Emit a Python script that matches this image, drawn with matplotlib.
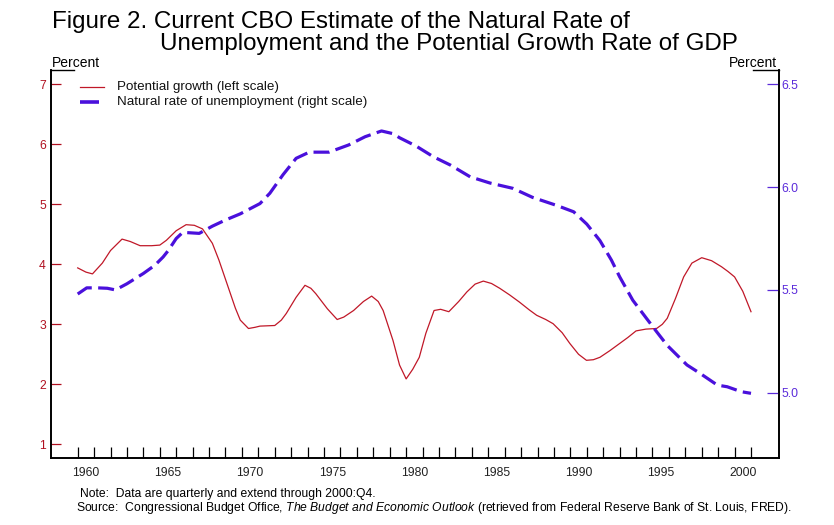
import matplotlib
matplotlib.use("Agg")
import matplotlib.pyplot as plt
from matplotlib.lines import Line2D
from matplotlib.ticker import FixedLocator, NullFormatter, FixedFormatter

plt.rcParams['font.family'] = ['Liberation Sans', 'DejaVu Sans']
plt.rcParams['mathtext.fontset'] = 'custom'
plt.rcParams['mathtext.rm'] = 'Liberation Sans'
plt.rcParams['mathtext.it'] = 'Liberation Sans:italic'

# ---------------- data ----------------
growth_years = [1960.0, 1960.5, 1960.9, 1961.5, 1962.0, 1962.7, 1963.2, 1963.8, 1964.5, 1965.0,
                1965.4, 1966.0, 1966.6, 1967.1, 1967.6, 1968.2, 1968.6, 1969.0, 1969.3, 1969.6,
                1969.9, 1970.4, 1970.8, 1971.1, 1972.0, 1972.4, 1972.7, 1973.3, 1973.84, 1974.2,
                1974.5, 1975.2, 1975.8, 1976.2, 1976.8, 1977.4, 1977.9, 1978.3, 1978.6, 1979.2,
                1979.6, 1980.0, 1980.4, 1980.8, 1981.2, 1981.7, 1982.1, 1982.6, 1983.2, 1983.7,
                1984.2, 1984.7, 1985.2, 1985.7, 1986.3, 1986.9, 1987.5, 1987.95, 1988.5, 1988.95,
                1989.5, 1989.97, 1990.5, 1990.98, 1991.4, 1991.8, 1992.4, 1993.0, 1993.5, 1994.0,
                1994.6, 1995.25, 1995.6, 1995.9, 1996.4, 1996.9, 1997.4, 1998.0, 1998.6, 1999.2,
                1999.6, 2000.0, 2000.5, 2001.0]
growth_vals = [3.94, 3.87, 3.84, 4.02, 4.23, 4.42, 4.38, 4.31, 4.31, 4.32,
               4.40, 4.56, 4.66, 4.65, 4.59, 4.35, 4.07, 3.75, 3.51, 3.27,
               3.07, 2.93, 2.95, 2.97, 2.98, 3.07, 3.18, 3.45, 3.65, 3.60,
               3.51, 3.26, 3.08, 3.12, 3.23, 3.38, 3.47, 3.38, 3.23, 2.73,
               2.32, 2.09, 2.25, 2.45, 2.85, 3.23, 3.25, 3.21, 3.38, 3.54,
               3.67, 3.72, 3.68, 3.60, 3.49, 3.37, 3.24, 3.15, 3.08, 3.01,
               2.86, 2.68, 2.50, 2.40, 2.41, 2.45, 2.56, 2.68, 2.78, 2.89,
               2.92, 2.93, 3.00, 3.10, 3.43, 3.79, 4.02, 4.11, 4.06, 3.96,
               3.88, 3.79, 3.55, 3.21]

nairu_years = [1960.0, 1960.55, 1961.2, 1961.8, 1962.3, 1963.0, 1964.0, 1964.7, 1965.2, 1965.5,
               1966.0, 1966.4, 1967.4, 1968.2, 1969.0, 1969.9, 1971.1, 1971.7, 1972.5, 1973.3,
               1974.1, 1975.3, 1976.5, 1977.5, 1978.5, 1979.2, 1979.6, 1980.6, 1981.65, 1982.7,
               1983.9, 1985.1, 1986.5, 1987.7, 1989.2, 1990.2, 1991.0, 1991.8, 1992.5, 1993.0,
               1993.8, 1994.65, 1995.25, 1995.9, 1997.1, 1997.9, 1998.95, 1999.55, 2000.4, 2001.0]
nairu_vals = [5.48, 5.51, 5.51, 5.508, 5.50, 5.53, 5.58, 5.62, 5.66, 5.69,
              5.75, 5.78, 5.775, 5.81, 5.84, 5.87, 5.92, 5.97, 6.06, 6.14,
              6.17, 6.17, 6.205, 6.245, 6.273, 6.26, 6.24, 6.20, 6.148, 6.107,
              6.05, 6.02, 5.994, 5.95, 5.91, 5.88, 5.82, 5.74, 5.645, 5.564,
              5.45, 5.36, 5.297, 5.23, 5.135, 5.094, 5.037, 5.029, 5.005, 4.997]

left_ticks = [1, 2, 3, 4, 5, 6, 7]
right_ticks = [5.0, 5.5, 6.0, 6.5]
right_tick_labels = ["5.0", "5.5", "6.0", "6.5"]
year_ticks = list(range(1960, 2002))
label_years = [1960, 1965, 1970, 1975, 1980, 1985, 1990, 1995, 2000]

title_line1 = "Figure 2. Current CBO Estimate of the Natural Rate of"
title_line2 = "Unemployment and the Potential Growth Rate of GDP"
legend_labels = ["Potential growth (left scale)", "Natural rate of unemployment (right scale)"]

# ---------------- styles ----------------
RED = "#C01828"
RED_TXT = "#B01020"
BLUE = "#4A10DC"
BLUE_TXT = "#5A2ADA"

W, H = 834, 525
fig = plt.figure(figsize=(W / 100, H / 100), dpi=100)
ax_l, ax_r, ax_b, ax_t = 50.7, 779, 458.3, 70
ax = fig.add_axes([ax_l / W, 1 - ax_b / H, (ax_r - ax_l) / W, (ax_b - ax_t) / H])
ax2 = ax.twinx()

ax.set_xlim(1958.356, 2002.705)
ax.set_ylim(0.767, 7.238)
ax2.set_ylim(4.681, 6.5696)

ax.plot(growth_years, growth_vals, color=RED, lw=0.9, zorder=3)
ax2.plot(nairu_years, nairu_vals, color=BLUE, lw=2.3, dashes=(5.0, 2.0), zorder=3,
         solid_capstyle='butt', dash_capstyle='butt')

for a in (ax, ax2):
    a.spines['top'].set_visible(False)
    for s in ('left', 'right', 'bottom'):
        a.spines[s].set_linewidth(1.2)
        a.spines[s].set_color('black')

# left axis ticks
ax.yaxis.set_major_locator(FixedLocator(left_ticks))
ax.tick_params(axis='y', direction='in', length=7.2, width=0.9, colors=RED_TXT,
               labelsize=8.7, pad=3.5)
# right axis ticks
ax2.yaxis.set_major_locator(FixedLocator(right_ticks))
ax2.yaxis.set_major_formatter(FixedFormatter(right_tick_labels))
ax2.tick_params(axis='y', direction='in', length=8.8, width=0.9, colors=BLUE_TXT,
                labelsize=8.7, pad=1.5)

# x axis: ticks every year, labels centered in year intervals
ax.xaxis.set_major_locator(FixedLocator(year_ticks))
ax.xaxis.set_major_formatter(NullFormatter())
ax.xaxis.set_minor_locator(FixedLocator([y + 0.5 for y in label_years]))
ax.xaxis.set_minor_formatter(FixedFormatter([str(y) for y in label_years]))
ax.tick_params(axis='x', which='major', direction='in', length=8, width=0.9, color='black')
ax.tick_params(axis='x', which='minor', length=0, labelsize=8.7, pad=6, labelcolor='#222222')

# top caps of the vertical axes
for x0, x1 in ((0, 23.6 / (ax_r - ax_l)), (1 - 25.7 / (ax_r - ax_l), 1)):
    ax.add_line(Line2D([x0, x1], [1, 1], transform=ax.transAxes, color='black',
                       lw=1.0, clip_on=False))

# legend drawn in axes coordinates
aw = ax_r - ax_l
ah = ax_b - ax_t
def axx(px):
    return (px - ax_l) / aw
def axy(py):
    return (ax_b - py) / ah
ax.add_line(Line2D([axx(80), axx(104)], [axy(86.7), axy(86.7)], transform=ax.transAxes,
                   color=RED, lw=0.9))
ax.add_line(Line2D([axx(80), axx(99)], [axy(102.3), axy(102.3)], transform=ax.transAxes,
                   color=BLUE, lw=2.6, solid_capstyle='butt'))
ax.text(axx(117), axy(86.7), legend_labels[0], transform=ax.transAxes, fontsize=9.6,
        va='center', ha='left', color='#111111')
ax.text(axx(117), axy(102.3), legend_labels[1], transform=ax.transAxes, fontsize=9.6,
        va='center', ha='left', color='#111111')

# titles and axis captions
fig.text(51.5 / W, 1 - 28.3 / H, title_line1, fontsize=17.4, ha='left', va='baseline')
fig.text(160 / W, 1 - 50 / H, title_line2, fontsize=17.4, ha='left', va='baseline')
fig.text(51.5 / W, 1 - 66.7 / H, "Percent", fontsize=10, ha='left', va='baseline')
fig.text(777 / W, 1 - 66.7 / H, "Percent", fontsize=10, ha='right', va='baseline')

# notes
fig.text(80.5 / W, 1 - 496.5 / H, "Note:  Data are quarterly and extend through 2000:Q4.",
         fontsize=8.7, ha='left', va='baseline')
fig.text(76 / W, 1 - 510.5 / H,
         r"Source:  Congressional Budget Office, $\it{The\ Budget\ and\ Economic\ Outlook}$"
         " (retrieved from Federal Reserve Bank of St. Louis, FRED).",
         fontsize=8.7, ha='left', va='baseline')

fig.savefig("out.png", dpi=100)
